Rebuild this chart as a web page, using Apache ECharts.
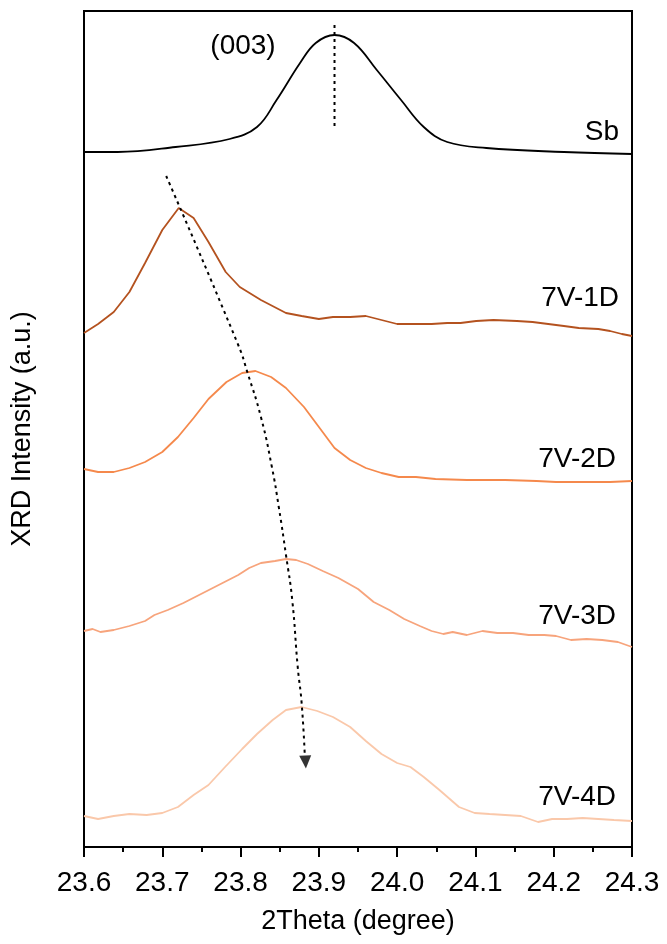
<!DOCTYPE html>
<html>
<head>
<meta charset="utf-8">
<title>XRD (003) peak shift</title>
<script src="https://cdn.jsdelivr.net/npm/echarts@6/dist/echarts.min.js"></script>
<style>
  html, body { margin: 0; padding: 0; background: #fff; }
  #chart { width: 667px; height: 944px; }
</style>
</head>
<body>
<div id="chart"></div>
<script>
// x axis ticks (2Theta, degree)
const xTicks = [23.6, 23.7, 23.8, 23.9, 24.0, 24.1, 24.2, 24.3]

// curves, stacked with an offset (a.u.)
const sbTheta = [23.600, 23.643, 23.717, 23.786, 23.821, 23.846, 23.876, 23.896, 23.920, 23.945, 23.974, 24.005, 24.034, 24.064, 24.114, 24.213, 24.300]
const sbInt = [695, 695, 700, 708, 720, 747, 784, 804, 812, 804, 777, 747, 720, 705, 699, 695, 693]

const d1Theta = [23.600, 23.618, 23.638, 23.658, 23.678, 23.700, 23.721, 23.740, 23.759, 23.781, 23.799, 23.826, 23.858, 23.878, 23.900, 23.918, 23.940, 23.960, 23.980, 24.000, 24.019, 24.044, 24.064, 24.081, 24.101, 24.123, 24.153, 24.173, 24.193, 24.213, 24.232, 24.257, 24.272, 24.287, 24.300]
const d1Int = [514, 523, 535, 555, 584, 617, 639, 629, 605, 575, 560, 547, 534, 531, 528, 530, 530, 531, 527, 523, 523, 523, 524, 524, 526, 527, 526, 525, 523, 521, 519, 518, 516, 513, 511]

const d2Theta = [23.600, 23.618, 23.638, 23.658, 23.678, 23.700, 23.720, 23.740, 23.759, 23.782, 23.802, 23.819, 23.839, 23.858, 23.881, 23.901, 23.920, 23.940, 23.960, 23.980, 24.002, 24.024, 24.049, 24.089, 24.138, 24.178, 24.203, 24.237, 24.272, 24.300]
const d2Int = [378, 375, 375, 379, 385, 395, 410, 429, 448, 465, 474, 476, 470, 459, 440, 419, 399, 387, 379, 374, 370, 370, 368, 367, 367, 366, 365, 365, 365, 366]

const d3Theta = [23.600, 23.611, 23.621, 23.638, 23.658, 23.678, 23.690, 23.707, 23.727, 23.742, 23.757, 23.777, 23.797, 23.811, 23.826, 23.844, 23.858, 23.871, 23.886, 23.905, 23.925, 23.950, 23.970, 23.990, 24.009, 24.029, 24.044, 24.059, 24.071, 24.089, 24.109, 24.128, 24.148, 24.168, 24.188, 24.203, 24.222, 24.242, 24.262, 24.282, 24.300]
const d3Int = [216, 218, 215, 217, 221, 226, 232, 237, 244, 250, 256, 264, 272, 279, 284, 286, 288, 287, 283, 276, 269, 258, 245, 237, 228, 221, 216, 213, 215, 212, 216, 214, 214, 212, 212, 211, 207, 208, 207, 205, 200]

const d4Theta = [23.600, 23.618, 23.638, 23.658, 23.680, 23.700, 23.720, 23.740, 23.759, 23.779, 23.802, 23.821, 23.841, 23.858, 23.878, 23.898, 23.918, 23.940, 23.960, 23.980, 24.000, 24.017, 24.034, 24.054, 24.079, 24.099, 24.118, 24.138, 24.158, 24.180, 24.198, 24.217, 24.237, 24.257, 24.277, 24.300]
const d4Int = [31, 28, 31, 33, 32, 34, 40, 52, 62, 79, 98, 113, 127, 137, 140, 136, 130, 120, 106, 93, 84, 80, 70, 57, 40, 34, 33, 32, 31, 25, 28, 28, 29, 28, 27, 26]

// guide lines
const peakLineTheta = [23.92, 23.92]
const peakLineInt = [822, 717]
const arrowTheta = [23.705, 23.797, 23.809, 23.826, 23.840, 23.849, 23.858, 23.866, 23.873, 23.878, 23.882]
const arrowInt = [671, 502, 474, 430, 380, 339, 292, 247, 180, 144, 92]
const arrowHead = [[23.883, 85]]

const FONT = 'Liberation Sans, Arial, sans-serif'

function zip(xs, ys) {
  return xs.map((x, i) => [x, ys[i]])
}

function curve(name, xs, ys, color, smooth) {
  return {
    name: name,
    type: 'line',
    data: zip(xs, ys),
    smooth: smooth,
    symbol: 'none',
    silent: true,
    lineStyle: { color: color, width: 1.8 }
  }
}

function label(text, x, y, align) {
  return {
    type: 'text',
    x: x,
    y: y,
    style: { text: text, align: align, verticalAlign: 'middle', fontSize: 28, fontFamily: FONT, fill: '#000' }
  }
}

const chart = echarts.init(document.getElementById('chart'))

chart.setOption({
  backgroundColor: '#fff',
  animation: false,
  grid: {
    left: 84,
    right: 35,
    top: 11,
    bottom: 97,
    show: true,
    borderColor: '#000',
    borderWidth: 2
  },
  xAxis: {
    type: 'value',
    min: 23.6,
    max: 24.3,
    interval: 0.1,
    name: '2Theta (degree)',
    nameLocation: 'middle',
    nameGap: 61,
    nameTextStyle: { color: '#000', fontSize: 27, fontFamily: FONT },
    axisLine: { lineStyle: { color: '#000', width: 2 } },
    axisTick: { length: 10, lineStyle: { color: '#000', width: 2 } },
    minorTick: { show: true, splitNumber: 2, length: 5, lineStyle: { color: '#000', width: 2 } },
    axisLabel: {
      color: '#000',
      fontSize: 28,
      fontFamily: FONT,
      margin: 22,
      formatter: v => xTicks.find(t => Math.abs(t - v) < 1e-6).toFixed(1)
    },
    splitLine: { show: false }
  },
  yAxis: {
    type: 'value',
    min: 0,
    max: 836,
    name: 'XRD Intensity (a.u.)',
    nameLocation: 'middle',
    nameGap: 48,
    nameTextStyle: { color: '#000', fontSize: 27, fontFamily: FONT },
    axisLine: { show: true, lineStyle: { color: '#000', width: 2 } },
    axisTick: { show: false },
    axisLabel: { show: false },
    splitLine: { show: false }
  },
  series: [
    curve('Sb', sbTheta, sbInt, '#000', 0.4),
    curve('7V-1D', d1Theta, d1Int, '#B4521F', false),
    curve('7V-2D', d2Theta, d2Int, '#F5894C', false),
    curve('7V-3D', d3Theta, d3Int, '#F7A47C', false),
    curve('7V-4D', d4Theta, d4Int, '#FAC8AA', false),
    {
      type: 'line',
      data: zip(peakLineTheta, peakLineInt),
      symbol: 'none',
      silent: true,
      lineStyle: { color: '#000', width: 2, type: [3, 4] }
    },
    {
      type: 'line',
      data: zip(arrowTheta, arrowInt),
      smooth: true,
      symbol: 'none',
      silent: true,
      lineStyle: { color: '#000', width: 2, type: [3, 4] }
    },
    {
      type: 'scatter',
      data: arrowHead,
      symbol: 'triangle',
      symbolSize: [12, 13],
      symbolRotate: 183,
      silent: true,
      itemStyle: { color: '#000' }
    }
  ],
  graphic: [
    label('(003)', 243, 46, 'center'),
    label('Sb', 619, 132, 'right'),
    label('7V-1D', 619, 298, 'right'),
    label('7V-2D', 616, 459, 'right'),
    label('7V-3D', 616, 616, 'right'),
    label('7V-4D', 616, 797, 'right')
  ]
})
</script>
</body>
</html>
